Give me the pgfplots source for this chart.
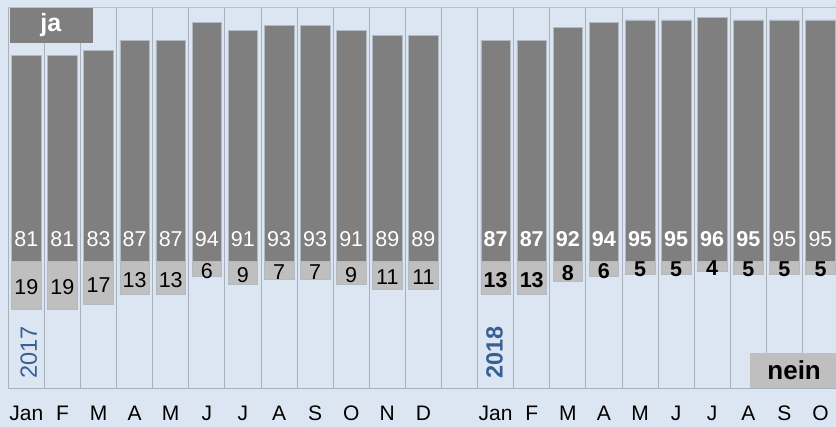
\documentclass[border=0pt]{standalone}
\usepackage{fontspec}
\setmainfont{Liberation Sans}
\usepackage{pgfplots}
\pgfplotsset{compat=1.18}
\definecolor{bg}{RGB}{220,230,242}
\definecolor{darkbar}{RGB}{127,127,127}
\definecolor{lightbar}{RGB}{191,191,191}
\definecolor{gridc}{RGB}{168,176,186}
\definecolor{topc}{RGB}{185,193,202}
\definecolor{edgec}{RGB}{178,186,196}
\definecolor{yearblue}{RGB}{55,96,146}
\newcommand{\numfont}{\fontsize{21.5}{21.5}\selectfont}
\begin{document}
\begin{tikzpicture}
\fill[bg] (0,0) rectangle (836pt,427pt);
\begin{axis}[
  at={(8.3pt,38.7pt)}, anchor=south west, scale only axis,
  width=827.7pt, height=381pt,
  xmin=-0.5, xmax=22.43, ymin=-50, ymax=100,
  axis line style={draw=none},
  ytick=\empty,
  xtick={0,1,2,3,4,5,6,7,8,9,10,11,13,14,15,16,17,18,19,20,21,22},
  xticklabels={Jan,F,M,A,M,J,J,A,S,O,N,D,Jan,F,M,A,M,J,J,A,S,O},
  minor xtick={-0.5,0.5,1.5,2.5,3.5,4.5,5.5,6.5,7.5,8.5,9.5,10.5,11.5,12.5,13.5,14.5,15.5,16.5,17.5,18.5,19.5,20.5,21.5,22.5},
  xminorgrids=true,
  minor grid style={gridc, line width=0.8pt},
  tick style={draw=none},
  xticklabel style={font=\fontsize{21}{21}\selectfont, anchor=base, yshift=-32.7pt},
]
\addplot[ybar, bar width=0.82, bar shift=0pt, fill=darkbar, draw=edgec, line width=0.6pt]
 coordinates {(0,81)(1,81)(2,83)(3,87)(4,87)(5,94)(6,91)(7,93)(8,93)(9,91)(10,89)(11,89)
 (13,87)(14,87)(15,92)(16,94)(17,95)(18,95)(19,96)(20,95)(21,95)(22,95)};
\addplot[ybar, bar width=0.82, bar shift=0pt, fill=lightbar, draw=edgec, line width=0.6pt]
 coordinates {(0,-19)(1,-19)(2,-17)(3,-13)(4,-13)(5,-6)(6,-9)(7,-7)(8,-7)(9,-9)(10,-11)(11,-11)
 (13,-13)(14,-13)(15,-8)(16,-6)(17,-5)(18,-5)(19,-4)(20,-5)(21,-5)(22,-5)};
% ja labels
\addplot[draw=none, mark=none, nodes near coords, point meta=explicit symbolic,
  every node near coord/.style={anchor=center, text=white, font=\numfont, inner sep=0pt}]
 coordinates {(0,8.8)[81] (1,8.8)[81] (2,8.8)[83] (3,8.8)[87] (4,8.8)[87] (5,8.8)[94] (6,8.8)[91] (7,8.8)[93] (8,8.8)[93] (9,8.8)[91] (10,8.8)[89] (11,8.8)[89]
 (13,8.8)[\textbf{87}] (14,8.8)[\textbf{87}] (15,8.8)[\textbf{92}] (16,8.8)[\textbf{94}] (17,8.8)[\textbf{95}] (18,8.8)[\textbf{95}] (19,8.8)[\textbf{96}] (20,8.8)[\textbf{95}] (21,8.8)[95] (22,8.8)[95]};
% nein labels
\addplot[draw=none, mark=none, nodes near coords, point meta=explicit symbolic,
  every node near coord/.style={anchor=center, text=black, font=\numfont, inner sep=0pt}]
 coordinates {(0,-10.3)[19] (1,-10.3)[19] (2,-9.3)[17] (3,-7.3)[13] (4,-7.3)[13] (5,-3.8)[6] (6,-5.3)[9] (7,-4.3)[7] (8,-4.3)[7] (9,-5.3)[9] (10,-6.3)[11] (11,-6.3)[11]
 (13,-7.3)[\textbf{13}] (14,-7.3)[\textbf{13}] (15,-4.8)[\textbf{8}] (16,-3.8)[\textbf{6}] (17,-3.3)[\textbf{5}] (18,-3.3)[\textbf{5}] (19,-2.8)[\textbf{4}] (20,-3.3)[\textbf{5}] (21,-3.3)[\textbf{5}] (22,-3.3)[\textbf{5}]};
\fill[darkbar] (axis cs:-0.45,86) rectangle (axis cs:1.84,100);
\node[text=white, font=\fontsize{25}{25}\selectfont\bfseries] at (axis cs:0.68,93) {ja};
\fill[lightbar] (axis cs:20.05,-50) rectangle (axis cs:23,-36.1);
\node[text=black, font=\fontsize{26}{26}\selectfont\bfseries] at (axis cs:21.27,-43) {nein};
\node[rotate=90, text=yearblue, font=\fontsize{23.5}{23.5}\selectfont] at (axis cs:0.07,-36) {2017};
\node[rotate=90, text=yearblue, font=\fontsize{23.5}{23.5}\selectfont\bfseries] at (axis cs:12.97,-36) {2018};
\draw[gridc, line width=0.8pt] (axis cs:-0.5,-50) -- (axis cs:22.43,-50);
\draw[topc, line width=0.8pt] (axis cs:-0.5,100) -- (axis cs:22.43,100);
\end{axis}
\pgfresetboundingbox
\path[use as bounding box] (0,0) rectangle (836pt,427pt);
\end{tikzpicture}
\end{document}
